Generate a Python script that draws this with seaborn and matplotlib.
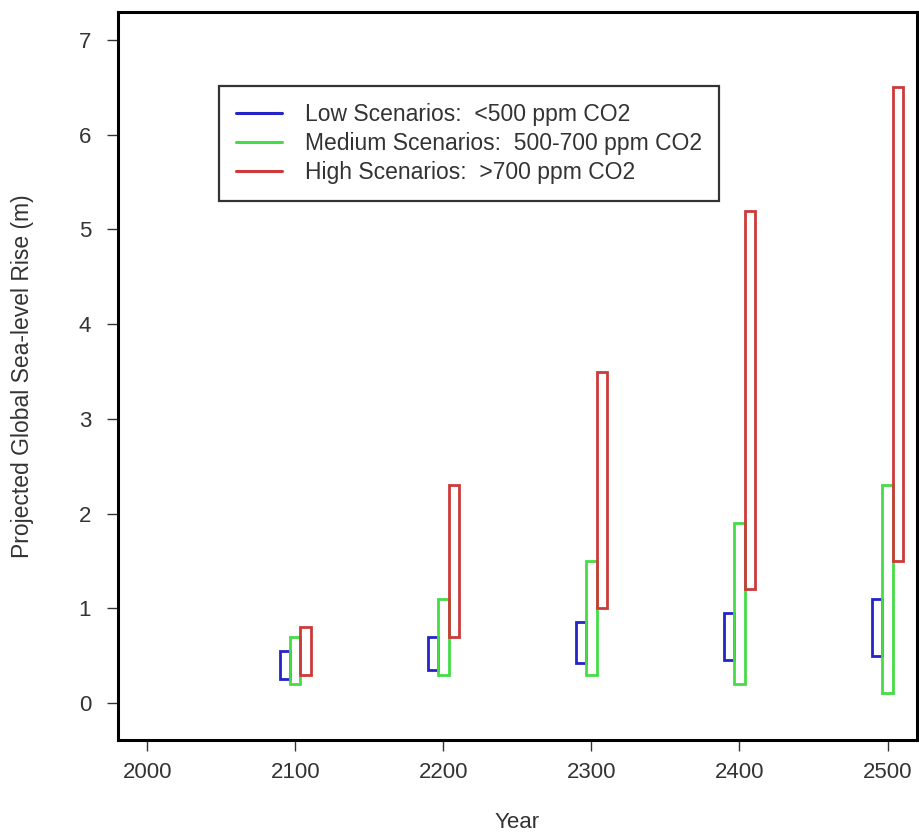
import matplotlib
matplotlib.use("Agg")
import matplotlib.pyplot as plt
import seaborn as sns
from matplotlib.lines import Line2D

# projected sea-level rise ranges (m) per scenario group
years = [2100, 2200, 2300, 2400, 2500]
low_min = [0.25, 0.35, 0.42, 0.45, 0.50]
low_max = [0.55, 0.70, 0.85, 0.95, 1.10]
med_min = [0.20, 0.30, 0.30, 0.20, 0.10]
med_max = [0.70, 1.10, 1.50, 1.90, 2.30]
high_min = [0.30, 0.70, 1.00, 1.20, 1.50]
high_max = [0.80, 2.30, 3.50, 5.20, 6.50]

labels = ["Low Scenarios:  <500 ppm CO2",
          "Medium Scenarios:  500-700 ppm CO2",
          "High Scenarios:  >700 ppm CO2"]
colors = ["#2424c8", "#46dc46", "#cc3a3a"]

sns.set_theme(style="white")
plt.rcParams['font.family'] = ['Liberation Sans', 'DejaVu Sans']

fig = plt.figure(figsize=(9.19, 8.36), dpi=100)
ax = fig.add_axes([0.128, 0.115, 0.870, 0.871])

series = [(low_min, low_max), (med_min, med_max), (high_min, high_max)]
offsets = [-7, 0, 7]
for (lo, hi), off, col in zip(series, offsets, colors):
    ax.bar([y + off for y in years], [h - l for l, h in zip(lo, hi)], bottom=lo,
           width=7, fill=False, edgecolor=col, linewidth=2.0)

ax.set_xlim(1980, 2520)
ax.set_ylim(-0.39, 7.3)
ax.set_xticks([2000, 2100, 2200, 2300, 2400, 2500])
ax.set_yticks(range(0, 8))
ax.tick_params(axis='both', direction='out', length=8, width=1.0, color='#333333',
               labelsize=16, labelcolor='#333333', bottom=True, left=True)
ax.tick_params(axis='x', pad=8)
ax.tick_params(axis='y', pad=11)
for s in ax.spines.values():
    s.set_color('black')
    s.set_linewidth(2.2)

ax.set_xlabel("Year", fontsize=16, color='#333333')
ax.set_ylabel("Projected Global Sea-level Rise (m)", fontsize=16.5, color='#333333')
ax.xaxis.set_label_coords(0.5, -0.099)
ax.yaxis.set_label_coords(-0.105, 0.5)

handles = [Line2D([0], [0], color=c, lw=2.2) for c in colors]
leg = ax.legend(handles, labels, loc='upper left', bbox_to_anchor=(0.127, 0.898),
                fontsize=16.5, frameon=True, fancybox=False, handlelength=2.0,
                handletextpad=1.0, borderpad=0.75, labelspacing=0.26, borderaxespad=0)
leg.get_frame().set_edgecolor('black')
leg.get_frame().set_linewidth(1.6)
for t in leg.get_texts():
    t.set_color('#333333')

fig.savefig("out.png", dpi=100)
